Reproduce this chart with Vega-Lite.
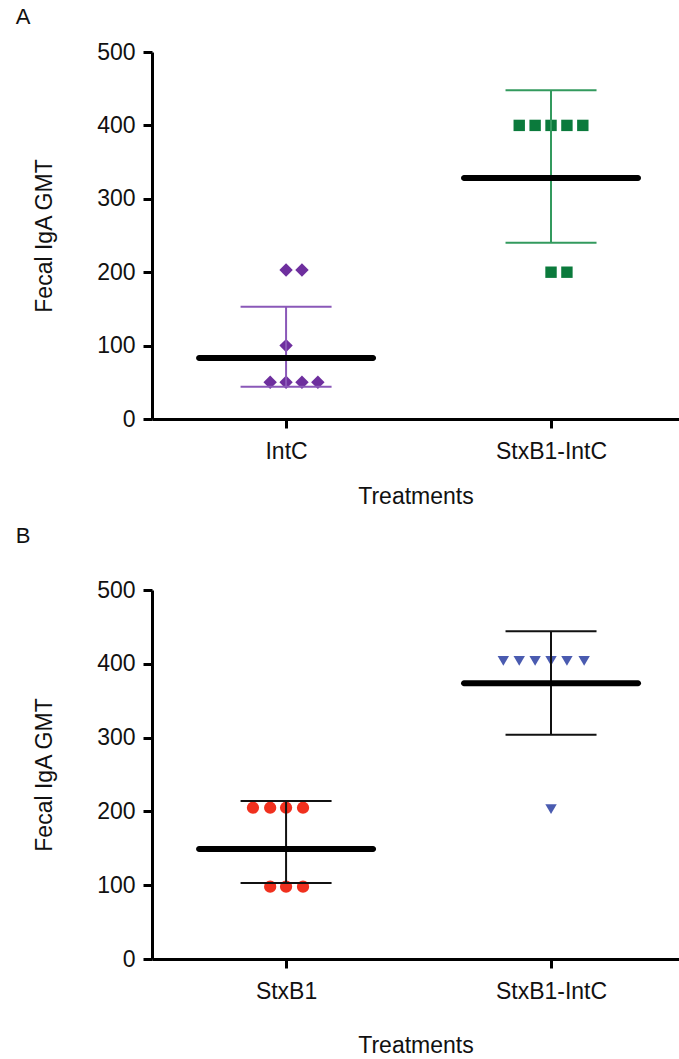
{
  "$schema": "https://vega.github.io/schema/vega-lite/v6.json",
  "autosize": {"type": "pad"},
  "padding": {"left": 15, "top": 6, "right": 0, "bottom": 0},
  "background": "white",
  "spacing": 17,
  "config": {
    "font": "Liberation Sans",
    "view": {"stroke": null},
    "axis": {
      "grid": false,
      "domainColor": "black",
      "domainWidth": 3,
      "tickColor": "black",
      "tickWidth": 3,
      "tickSize": 9,
      "labelFont": "Liberation Sans",
      "labelFontSize": 23,
      "labelColor": "#111111",
      "titleFont": "Liberation Sans",
      "titleFontSize": 23,
      "titleFontWeight": "normal",
      "titleColor": "#111111"
    },
    "title": {"fontSize": 22, "fontWeight": "normal", "anchor": "start", "frame": "bounds", "color": "#111111", "font": "Liberation Sans"}
  },
  "datasets": {
    "points": [
      {"panel": "A", "group": "IntC", "pos": 1.0, "value": 203},
      {"panel": "A", "group": "IntC", "pos": 1.06, "value": 203},
      {"panel": "A", "group": "IntC", "pos": 1.0, "value": 100},
      {"panel": "A", "group": "IntC", "pos": 0.94, "value": 50},
      {"panel": "A", "group": "IntC", "pos": 1.0, "value": 50},
      {"panel": "A", "group": "IntC", "pos": 1.06, "value": 50},
      {"panel": "A", "group": "IntC", "pos": 1.12, "value": 50},
      {"panel": "A", "group": "StxB1-IntC", "pos": 1.88, "value": 400},
      {"panel": "A", "group": "StxB1-IntC", "pos": 1.94, "value": 400},
      {"panel": "A", "group": "StxB1-IntC", "pos": 2.0, "value": 400},
      {"panel": "A", "group": "StxB1-IntC", "pos": 2.06, "value": 400},
      {"panel": "A", "group": "StxB1-IntC", "pos": 2.12, "value": 400},
      {"panel": "A", "group": "StxB1-IntC", "pos": 2.0, "value": 200},
      {"panel": "A", "group": "StxB1-IntC", "pos": 2.06, "value": 200},
      {"panel": "B", "group": "StxB1", "pos": 0.875, "value": 205},
      {"panel": "B", "group": "StxB1", "pos": 0.94, "value": 205},
      {"panel": "B", "group": "StxB1", "pos": 1.0, "value": 205},
      {"panel": "B", "group": "StxB1", "pos": 1.064, "value": 205},
      {"panel": "B", "group": "StxB1", "pos": 0.94, "value": 98},
      {"panel": "B", "group": "StxB1", "pos": 1.0, "value": 98},
      {"panel": "B", "group": "StxB1", "pos": 1.064, "value": 98},
      {"panel": "B", "group": "StxB1-IntC", "pos": 1.82, "value": 404},
      {"panel": "B", "group": "StxB1-IntC", "pos": 1.88, "value": 404},
      {"panel": "B", "group": "StxB1-IntC", "pos": 1.94, "value": 404},
      {"panel": "B", "group": "StxB1-IntC", "pos": 2.0, "value": 404},
      {"panel": "B", "group": "StxB1-IntC", "pos": 2.06, "value": 404},
      {"panel": "B", "group": "StxB1-IntC", "pos": 2.125, "value": 404},
      {"panel": "B", "group": "StxB1-IntC", "pos": 2.0, "value": 203}
    ],
    "stats": [
      {"panel": "A", "group": "IntC", "pos": 1, "mean": 83, "lo": 44, "hi": 153},
      {"panel": "A", "group": "StxB1-IntC", "pos": 2, "mean": 328.5, "lo": 240, "hi": 448},
      {"panel": "B", "group": "StxB1", "pos": 1, "mean": 149, "lo": 103, "hi": 214},
      {"panel": "B", "group": "StxB1-IntC", "pos": 2, "mean": 373.5, "lo": 304, "hi": 444}
    ]
  },
  "vconcat": [
    {
      "title": {"text": "A", "dx": -18, "offset": 12},
      "width": 527,
      "height": 367,
      "layer": [
        {
          "data": {"name": "points"},
          "transform": [{"filter": "datum.panel == 'A'"}],
          "mark": {"type": "point", "filled": true, "opacity": 1, "strokeWidth": 0},
          "encoding": {
            "x": {"field": "pos", "type": "quantitative", "scale": {"domain": [0.494, 2.483], "nice": false, "zero": false},
              "axis": {"values": [1, 2], "labelExpr": "datum.value == 1 ? 'IntC' : 'StxB1-IntC'", "title": "Treatments", "labelPadding": 12, "titlePadding": 22, "labelFlush": false}},
            "y": {"field": "value", "type": "quantitative", "scale": {"domain": [0, 500], "nice": false},
              "axis": {"values": [0, 100, 200, 300, 400, 500], "title": "Fecal IgA GMT", "labelPadding": 8, "titlePadding": 40}},
            "color": {"condition": {"test": "datum.group == 'IntC'", "value": "#6E2F9E"}, "value": "#0B7A3C"},
            "shape": {"condition": {"test": "datum.group == 'IntC'", "value": "diamond"}, "value": "square"},
            "size": {"condition": {"test": "datum.group == 'IntC'", "value": 180}, "value": 130}
          }
        },
        {
          "data": {"name": "stats"},
          "transform": [{"filter": "datum.panel == 'A'"}],
          "mark": {"type": "rule", "strokeWidth": 2, "opacity": 1},
          "encoding": {
            "x": {"field": "pos", "type": "quantitative"},
            "y": {"field": "lo", "type": "quantitative"},
            "y2": {"field": "hi"},
            "color": {"condition": {"test": "datum.group == 'IntC'", "value": "#8A58B8"}, "value": "#339A5E"}
          }
        },
        {
          "data": {"name": "stats"},
          "transform": [{"filter": "datum.panel == 'A'"}, {"fold": ["lo", "hi"], "as": ["bound", "bval"]}],
          "mark": {"type": "tick", "orient": "horizontal", "size": 91, "thickness": 2, "opacity": 1},
          "encoding": {
            "x": {"field": "pos", "type": "quantitative"},
            "y": {"field": "bval", "type": "quantitative"},
            "color": {"condition": {"test": "datum.group == 'IntC'", "value": "#8A58B8"}, "value": "#339A5E"}
          }
        },
        {
          "data": {"name": "stats"},
          "transform": [{"filter": "datum.panel == 'A'"}],
          "mark": {"type": "tick", "orient": "horizontal", "size": 180, "thickness": 6, "color": "black", "opacity": 1, "cornerRadius": 3},
          "encoding": {
            "x": {"field": "pos", "type": "quantitative"},
            "y": {"field": "mean", "type": "quantitative"}
          }
        }
      ]
    },
    {
      "title": {"text": "B", "dx": -18, "offset": 31},
      "width": 527,
      "height": 369,
      "layer": [
        {
          "data": {"name": "points"},
          "transform": [{"filter": "datum.panel == 'B'"}],
          "mark": {"type": "point", "filled": true, "opacity": 1, "strokeWidth": 0},
          "encoding": {
            "x": {"field": "pos", "type": "quantitative", "scale": {"domain": [0.494, 2.483], "nice": false, "zero": false},
              "axis": {"values": [1, 2], "labelExpr": "datum.value == 1 ? 'StxB1' : 'StxB1-IntC'", "title": "Treatments", "labelPadding": 12, "titlePadding": 31, "labelFlush": false}},
            "y": {"field": "value", "type": "quantitative", "scale": {"domain": [0, 500], "nice": false},
              "axis": {"values": [0, 100, 200, 300, 400, 500], "title": "Fecal IgA GMT", "labelPadding": 8, "titlePadding": 40}},
            "color": {"condition": {"test": "datum.group == 'StxB1'", "value": "#F0301E"}, "value": "#4A5BB0"},
            "shape": {"condition": {"test": "datum.group == 'StxB1'", "value": "circle"}, "value": "triangle-down"},
            "size": {"condition": {"test": "datum.group == 'StxB1'", "value": 150}, "value": 130}
          }
        },
        {
          "data": {"name": "stats"},
          "transform": [{"filter": "datum.panel == 'B'"}],
          "mark": {"type": "rule", "strokeWidth": 2, "color": "#111111", "opacity": 1},
          "encoding": {
            "x": {"field": "pos", "type": "quantitative"},
            "y": {"field": "lo", "type": "quantitative"},
            "y2": {"field": "hi"}
          }
        },
        {
          "data": {"name": "stats"},
          "transform": [{"filter": "datum.panel == 'B'"}, {"fold": ["lo", "hi"], "as": ["bound", "bval"]}],
          "mark": {"type": "tick", "orient": "horizontal", "size": 91, "thickness": 2, "color": "#111111", "opacity": 1},
          "encoding": {
            "x": {"field": "pos", "type": "quantitative"},
            "y": {"field": "bval", "type": "quantitative"}
          }
        },
        {
          "data": {"name": "stats"},
          "transform": [{"filter": "datum.panel == 'B'"}],
          "mark": {"type": "tick", "orient": "horizontal", "size": 180, "thickness": 6, "color": "black", "opacity": 1, "cornerRadius": 3},
          "encoding": {
            "x": {"field": "pos", "type": "quantitative"},
            "y": {"field": "mean", "type": "quantitative"}
          }
        }
      ]
    }
  ]
}
